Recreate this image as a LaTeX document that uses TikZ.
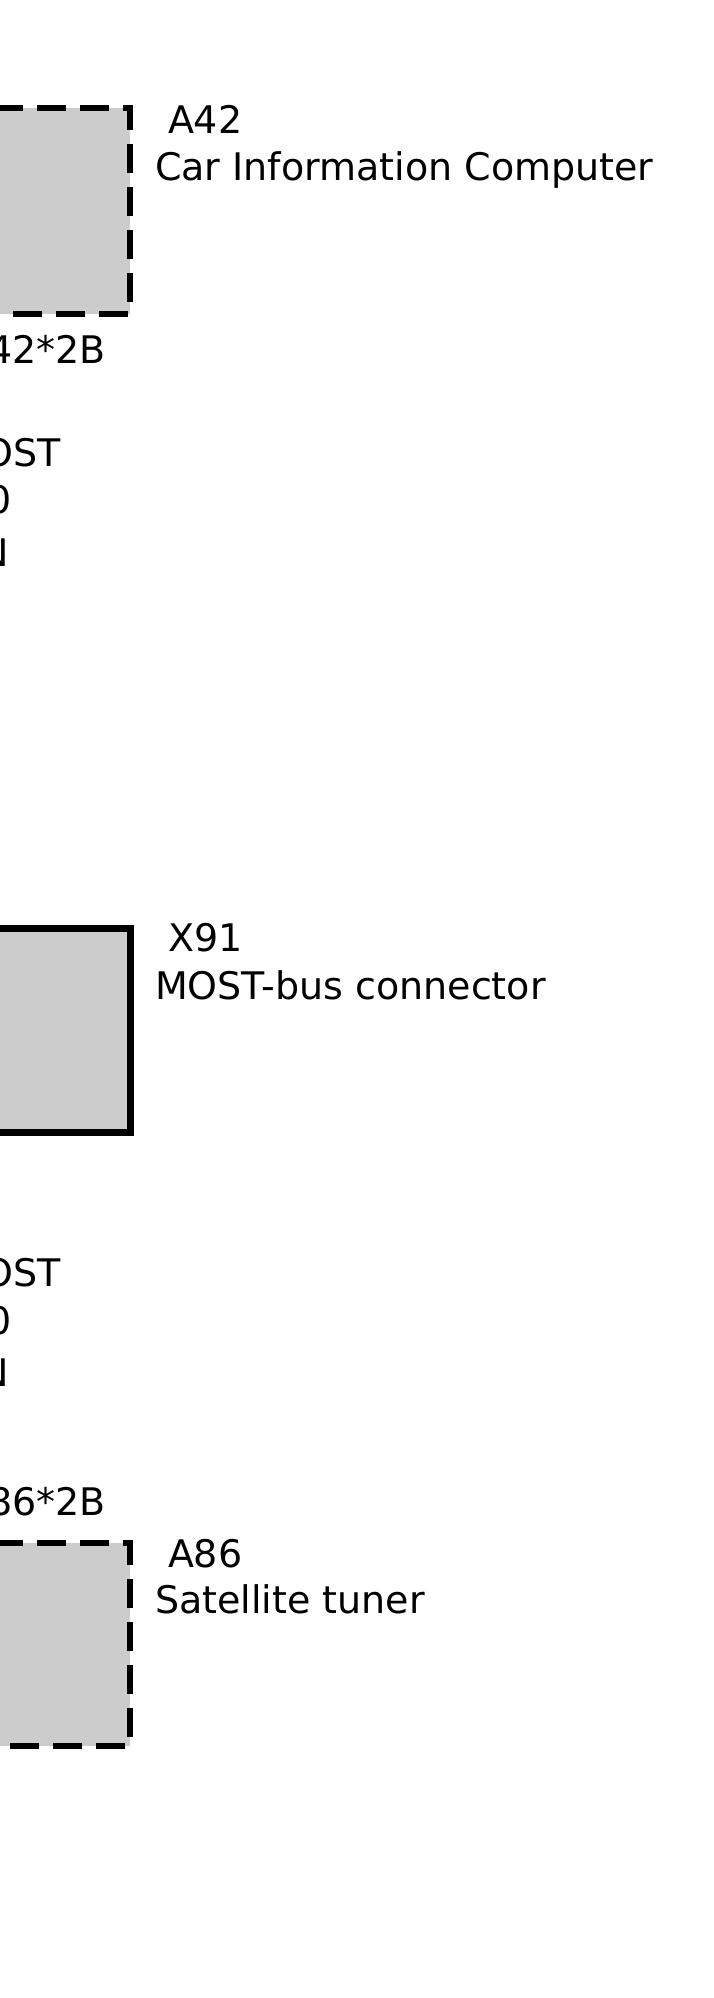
\documentclass[tikz,border=0pt]{standalone}
\usepackage{fontspec}
\setmainfont{DejaVu Sans}
\definecolor{boxgray}{RGB}{204,204,204}
\begin{document}
\begin{tikzpicture}[x=1pt,y=-1pt,
  lbl/.style={inner sep=0pt, outer sep=0pt, font=\fontsize{38}{45}\selectfont},
  unitbox/.style={fill=boxgray, draw=none, inner sep=0pt, outer sep=0pt, minimum width=222pt},
  solidbox/.style={unitbox, draw=black, line width=7pt},
  dashedge/.style={draw=black, line width=6pt, dash pattern=on 29pt off 14pt, dash phase=0pt}
]
\useasboundingbox (0,0) rectangle (714,1998);
\clip (0,0) rectangle (714,1998);

% A42
\node[unitbox, minimum height=206pt] (a42) at (19,211) {};
\draw[dashedge] (a42.north west) -- (a42.north east) -- (a42.south east) -- (a42.south west);
\node[lbl, anchor=base west] (a42id) at (168,133) {A42};
\node[lbl, anchor=base west] (a42name) at (155,180) {Car Information Computer};
\node[lbl, anchor=base east] (a42pin) at (106,363) {A42*2B};

% MOST group 1
\node[lbl, anchor=base east] (m1a) at (61,466) {MOST};
\node[lbl, anchor=base east] (m1b) at (12,513) {0};
\node[lbl, anchor=base east] (m1c) at (9,566) {N};

% X91
\node[solidbox, minimum height=204pt] (x91) at (19,1030) {};
\node[lbl, anchor=base west] (x91id) at (168,951) {X91};
\node[lbl, anchor=base west] (x91name) at (155,999) {MOST-bus connector};

% MOST group 2
\node[lbl, anchor=base east] (m2a) at (61,1286) {MOST};
\node[lbl, anchor=base east] (m2b) at (12,1334) {0};
\node[lbl, anchor=base east] (m2c) at (9,1386) {N};

% A86
\node[lbl, anchor=base east] (a86pin) at (106,1515) {A86*2B};
\node[unitbox, minimum height=203pt] (a86) at (19,1644.5) {};
\draw[dashedge] (a86.north west) -- (a86.north east) -- (a86.south east) -- (a86.south west);
\node[lbl, anchor=base west] (a86id) at (168,1567) {A86};
\node[lbl, anchor=base west] (a86name) at (155,1613) {Satellite tuner};
\end{tikzpicture}
\end{document}
